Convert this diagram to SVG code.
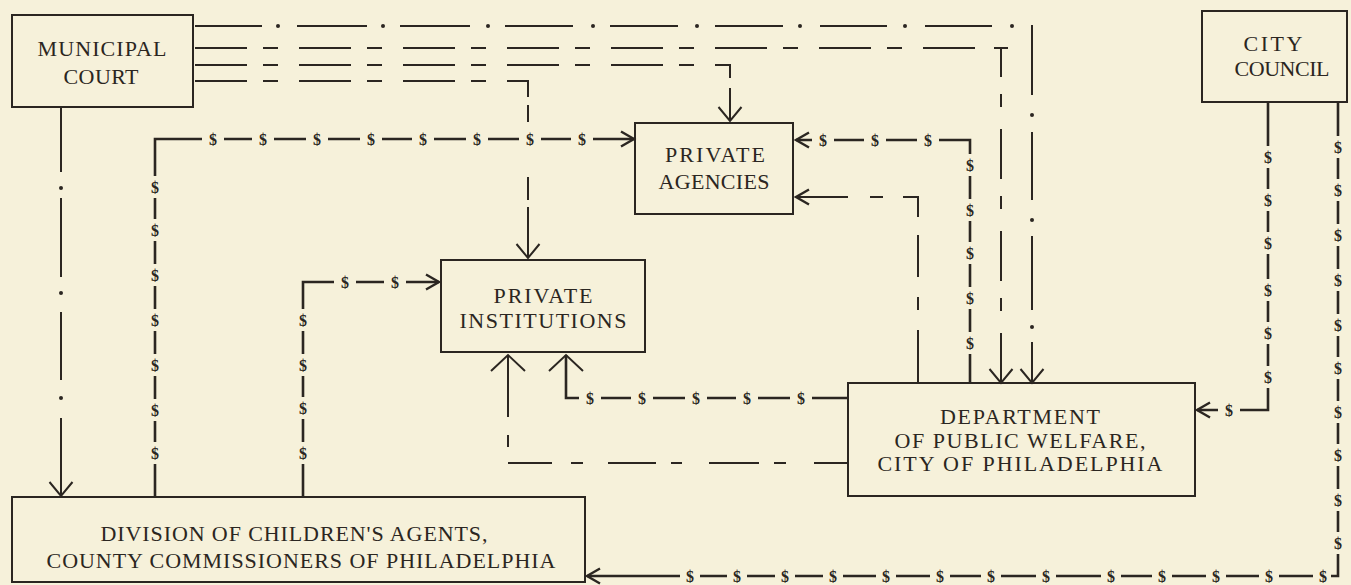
<svg xmlns="http://www.w3.org/2000/svg" width="1351" height="585" viewBox="0 0 1351 585">
<style>
.bg{fill:#f6f1da}
.box{fill:none;stroke:#2b2621;stroke-width:2}
.lbl{font-family:"Liberation Serif","Times New Roman",serif;font-size:22px;fill:#2b2621;text-anchor:middle}
.ln{fill:none;stroke:#2b2621;stroke-width:2}
.ld{fill:none;stroke:#2b2621;stroke-width:2.6}
.ls{stroke-dasharray:52 16 15 21}
.dot{fill:#2b2621}
.dl{font-family:"Liberation Serif","Times New Roman",serif;font-size:16px;font-weight:bold;fill:#2b2621;text-anchor:middle}
</style>
<defs>
<marker id="big" markerUnits="userSpaceOnUse" viewBox="-20 -20 40 40" markerWidth="40" markerHeight="40" refX="0" refY="0" orient="auto">
<path d="M-14,-11.5 L0,0 L-14,11.5" fill="none" stroke="#2b2621" stroke-width="2"/>
</marker>
<marker id="sm" markerUnits="userSpaceOnUse" viewBox="-20 -20 40 40" markerWidth="40" markerHeight="40" refX="0" refY="0" orient="auto">
<path d="M-13,-7.5 L0,0 L-13,7.5" fill="none" stroke="#2b2621" stroke-width="2.4"/>
</marker>
<marker id="wide" markerUnits="userSpaceOnUse" viewBox="-20 -20 40 40" markerWidth="40" markerHeight="40" refX="0" refY="0" orient="auto">
<path d="M-16,-17 L0,0 L-16,17" fill="none" stroke="#2b2621" stroke-width="2"/>
</marker>
</defs>
<rect class="bg" x="0" y="0" width="1351" height="585"/>

<g id="connectors">
<!-- C1 Municipal Court -> Dept (dash-dot) -->
<path class="ln" d="M195,26 H262 M297,26 H367 M400,26 H470 M505,26 H573 M610,26 H678 M715,26 H783 M820,26 H887 M925,26 H992"/>
<g class="dot">
<circle cx="278" cy="26" r="2"/><circle cx="383" cy="26" r="2"/><circle cx="488" cy="26" r="2"/><circle cx="593" cy="26" r="2"/><circle cx="697" cy="26" r="2"/><circle cx="800" cy="26" r="2"/><circle cx="905" cy="26" r="2"/><circle cx="1012" cy="26" r="2"/>
</g>
<path class="ln" d="M1032,25 V95 M1032,132 V200 M1032,236 V310 M1032,342 V383" marker-end="url(#big)"/>
<circle class="dot" cx="1032" cy="115" r="2"/>
<circle class="dot" cx="1032" cy="220" r="2"/>
<circle class="dot" cx="1032" cy="327" r="2"/>
<!-- C2 Municipal Court -> Dept (long-short dash) -->
<path class="ln ls" d="M195,48 H976"/>
<path class="ln" d="M994,48 H1008"/>
<path class="ln" d="M1001,48 V383" style="stroke-dasharray:50 17 13 22;stroke-dashoffset:21" marker-end="url(#big)"/>
<!-- C3 Municipal Court -> Private Agencies -->
<path class="ln ls" d="M195,65 H730 V78"/>
<path class="ln" d="M730,88 V121" marker-end="url(#big)"/>
<!-- C4 Municipal Court -> Private Institutions -->
<path class="ln ls" d="M195,81 H528 V97"/>
<path class="ln" d="M528,105 V122 M528,177 V200 M528,207 V258" marker-end="url(#big)"/>
<!-- C5 Municipal Court -> Division (dash-dot) -->
<path class="ln" d="M61,108 V172 M61,198 V277 M61,312 V380 M61,418 V496" marker-end="url(#big)"/>
<circle class="dot" cx="61" cy="188" r="2"/>
<circle class="dot" cx="61" cy="293" r="2"/>
<circle class="dot" cx="61" cy="398" r="2"/>
<!-- C6 Division -> Private Agencies ($) -->
<path class="ld" d="M155,497 V464 M155,442 V421 M155,399 V376 M155,354 V331 M155,309 V286 M155,264 V241 M155,219 V198 M155,176 V139 H202 M224,139 H252 M274,139 H306 M328,139 H360 M382,139 H412 M434,139 H466 M488,139 H519 M541,139 H571 M593,139 H634" marker-end="url(#sm)"/>
<g class="dl">
<text x="155" y="193">$</text><text x="155" y="236">$</text><text x="155" y="281">$</text><text x="155" y="326">$</text><text x="155" y="371">$</text><text x="155" y="416">$</text><text x="155" y="459">$</text>
<text x="213" y="145">$</text><text x="263" y="145">$</text><text x="317" y="145">$</text><text x="371" y="145">$</text><text x="423" y="145">$</text><text x="477" y="145">$</text><text x="530" y="145">$</text><text x="582" y="145">$</text>
</g>
<!-- C7 Division -> Private Institutions ($) -->
<path class="ld" d="M303,497 V464 M303,442 V419 M303,397 V376 M303,354 V331 M303,309 V282 H334 M356,282 H384 M406,282 H439" marker-end="url(#sm)"/>
<g class="dl">
<text x="303" y="326">$</text><text x="303" y="371">$</text><text x="303" y="414">$</text><text x="303" y="459">$</text>
<text x="345" y="288">$</text><text x="395" y="288">$</text>
</g>
<!-- C8 Dept -> Private Institutions ($) -->
<path class="ld" d="M848,398 H812 M790,398 H758 M736,398 H707 M685,398 H653 M631,398 H601 M579,398 H566 V355" marker-end="url(#wide)"/>
<g class="dl">
<text x="590" y="404">$</text><text x="642" y="404">$</text><text x="696" y="404">$</text><text x="747" y="404">$</text><text x="801" y="404">$</text>
</g>
<!-- C9 Dept -> Private Institutions (dashed) -->
<path class="ln" d="M848,463 H814 M786,463 H774 M759,463 H709 M682,463 H671 M656,463 H608 M583,463 H571 M552,463 H508 M508,447 V435 M508,417 V355" marker-end="url(#wide)"/>
<!-- C10 Dept -> Private Agencies (dashed) -->
<path class="ln" d="M918,383 V330 M918,310 V297 M918,277 V235 M918,217 V197 H903 M883,197 H870 M848,197 H796" marker-end="url(#sm)"/>
<!-- C11 Dept -> Private Agencies ($) -->
<path class="ld" d="M970,383 V354 M970,332 V309 M970,287 V264 M970,242 V221 M970,199 V176 M970,154 V140 H939 M917,140 H886 M864,140 H834 M812,140 H796" marker-end="url(#sm)"/>
<g class="dl">
<text x="970" y="171">$</text><text x="970" y="216">$</text><text x="970" y="259">$</text><text x="970" y="304">$</text><text x="970" y="349">$</text>
<text x="823" y="146">$</text><text x="875" y="146">$</text><text x="928" y="146">$</text>
</g>
<!-- C12 City Council -> Dept ($) -->
<path class="ld" d="M1268,102 V146 M1268,168 V189 M1268,211 V232 M1268,254 V279 M1268,301 V322 M1268,344 V366 M1268,388 V410 H1240 M1218,410 H1197" marker-end="url(#sm)"/>
<g class="dl">
<text x="1268" y="163">$</text><text x="1268" y="206">$</text><text x="1268" y="249">$</text><text x="1268" y="296">$</text><text x="1268" y="339">$</text><text x="1268" y="383">$</text>
<text x="1229" y="416">$</text>
</g>
<!-- C13 City Council -> Division ($) -->
<path class="ld" d="M1338,102 V136 M1338,158 V179 M1338,201 V224 M1338,246 V269 M1338,291 V314 M1338,336 V357 M1338,379 V401 M1338,423 V444 M1338,466 V489 M1338,511 V532 M1338,554 V576 H1331 M1313,576 H1279 M1259,576 H1226 M1206,576 H1172 M1152,576 H1121 M1101,576 H1056 M1036,576 H1001 M981,576 H950 M930,576 H896 M876,576 H843 M823,576 H795 M775,576 H747 M727,576 H700 M680,576 H587" marker-end="url(#sm)"/>
<g class="dl">
<text x="1338" y="153">$</text><text x="1338" y="196">$</text><text x="1338" y="241">$</text><text x="1338" y="286">$</text><text x="1338" y="331">$</text><text x="1338" y="374">$</text><text x="1338" y="418">$</text><text x="1338" y="461">$</text><text x="1338" y="506">$</text><text x="1338" y="549">$</text>
<text x="1323" y="582">$</text><text x="1269" y="582">$</text><text x="1216" y="582">$</text><text x="1162" y="582">$</text><text x="1111" y="582">$</text><text x="1046" y="582">$</text><text x="991" y="582">$</text><text x="940" y="582">$</text><text x="886" y="582">$</text><text x="833" y="582">$</text><text x="785" y="582">$</text><text x="737" y="582">$</text><text x="690" y="582">$</text>
</g>
</g>

<g id="municipal-court">
<rect class="box" x="12" y="15" width="181" height="92"/>
<text class="lbl" x="102" y="56" textLength="129" lengthAdjust="spacing">MUNICIPAL</text>
<text class="lbl" x="101" y="84" textLength="75" lengthAdjust="spacing">COURT</text>
</g>
<g id="city-council">
<rect class="box" x="1202" y="11" width="145" height="91"/>
<text class="lbl" x="1273" y="51" textLength="59" lengthAdjust="spacing">CITY</text>
<text class="lbl" x="1282" y="76" textLength="95" lengthAdjust="spacing">COUNCIL</text>
</g>
<g id="private-agencies">
<rect class="box" x="635" y="123" width="158" height="91"/>
<text class="lbl" x="715" y="162" textLength="100" lengthAdjust="spacing">PRIVATE</text>
<text class="lbl" x="714" y="189" textLength="111" lengthAdjust="spacing">AGENCIES</text>
</g>
<g id="private-institutions">
<rect class="box" x="441" y="260" width="204" height="92"/>
<text class="lbl" x="543" y="303" textLength="99" lengthAdjust="spacing">PRIVATE</text>
<text class="lbl" x="543" y="328" textLength="167" lengthAdjust="spacing">INSTITUTIONS</text>
</g>
<g id="department-public-welfare">
<rect class="box" x="848" y="383" width="347" height="113"/>
<text class="lbl" x="1020" y="424" textLength="160" lengthAdjust="spacing">DEPARTMENT</text>
<text class="lbl" x="1020" y="448" textLength="251" lengthAdjust="spacing">OF PUBLIC WELFARE,</text>
<text class="lbl" x="1020" y="471" textLength="285" lengthAdjust="spacing">CITY OF PHILADELPHIA</text>
</g>
<g id="division-childrens-agents">
<rect class="box" x="12" y="497" width="573" height="85"/>
<text class="lbl" x="294" y="541" textLength="387" lengthAdjust="spacing">DIVISION OF CHILDREN'S AGENTS,</text>
<text class="lbl" x="301" y="568" textLength="509" lengthAdjust="spacing">COUNTY COMMISSIONERS OF PHILADELPHIA</text>
</g>
</svg>
